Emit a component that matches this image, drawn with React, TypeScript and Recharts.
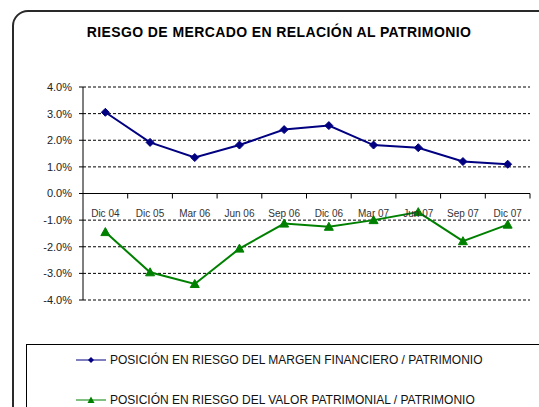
import { LineChart, Line, XAxis, YAxis, CartesianGrid, ReferenceLine } from "recharts";

const periods = ["Dic 04", "Dic 05", "Mar 06", "Jun 06", "Sep 06", "Dic 06", "Mar 07", "Jun 07", "Sep 07", "Dic 07"];
const margenFinanciero = [3.05, 1.92, 1.35, 1.82, 2.4, 2.55, 1.82, 1.72, 1.2, 1.1];
const valorPatrimonial = [-1.45, -2.96, -3.4, -2.07, -1.13, -1.25, -1.0, -0.7, -1.79, -1.17];
const yTicks = [-4, -3, -2, -1, 0, 1, 2, 3, 4];

const seriesNames = [
  "POSICIÓN EN RIESGO DEL MARGEN FINANCIERO / PATRIMONIO",
  "POSICIÓN EN RIESGO DEL VALOR PATRIMONIAL / PATRIMONIO",
];
const seriesColors = ["#000080", "#008000"];

const data = periods.map((p, i) => ({
  period: p,
  margen: margenFinanciero[i],
  valor: valorPatrimonial[i],
}));

const W = 539;
const H = 407;
const PLOT_LEFT = 83;
const PLOT_RIGHT = 530;
const PLOT_TOP = 87;
const PLOT_BOTTOM = 300;
const PLOT_W = PLOT_RIGHT - PLOT_LEFT;
const BAND = PLOT_W / periods.length;
const Y_MIN = yTicks[0];
const Y_MAX = yTicks[yTicks.length - 1];
const ZERO_Y = PLOT_TOP + ((PLOT_BOTTOM - PLOT_TOP) * Y_MAX) / (Y_MAX - Y_MIN);

const font = "Arial, 'Liberation Sans', sans-serif";

// category labels sit just under the zero line, tick marks between categories
function CategoryTick(props: any) {
  const { x, payload } = props;
  const bx = x + BAND / 2;
  return (
    <g>
      <line x1={bx} x2={bx} y1={ZERO_Y} y2={ZERO_Y + 5} stroke="#000" strokeWidth={1} />
      <text x={x} y={ZERO_Y + 23} textAnchor="middle" fontSize={10} fill="#333" fontFamily={font}>
        {payload.value}
      </text>
    </g>
  );
}

function Diamond(props: any) {
  const { cx, cy } = props;
  if (cx == null || cy == null) return null;
  const s = 4;
  return (
    <polygon
      points={`${cx},${cy - s} ${cx + s},${cy} ${cx},${cy + s} ${cx - s},${cy}`}
      fill={seriesColors[0]}
      stroke={seriesColors[0]}
    />
  );
}

function Triangle(props: any) {
  const { cx, cy } = props;
  if (cx == null || cy == null) return null;
  return (
    <polygon
      points={`${cx},${cy - 4.5} ${cx + 4.5},${cy + 3.5} ${cx - 4.5},${cy + 3.5}`}
      fill={seriesColors[1]}
      stroke={seriesColors[1]}
    />
  );
}

function LegendMarker({ index }: { index: number }) {
  const c = seriesColors[index];
  return (
    <svg width={30} height={10} style={{ marginRight: 4 }}>
      <line x1={0} x2={30} y1={5} y2={5} stroke={c} strokeWidth={1} />
      {index === 0 ? (
        <polygon points="15,2 18,5 15,8 12,5" fill={c} />
      ) : (
        <polygon points="15,1.5 18.5,8 11.5,8" fill={c} />
      )}
    </svg>
  );
}

export default function App() {
  return (
    <div
      style={{
        position: "absolute",
        left: 0,
        top: 0,
        width: W,
        height: H,
        overflow: "hidden",
        background: "#fff",
        fontFamily: font,
      }}
    >
      <div
        style={{
          position: "absolute",
          left: 12,
          top: 10,
          width: 600,
          height: 500,
          border: "2px solid #2a2a2a",
          borderRadius: 16,
        }}
      />
      <div
        style={{
          position: "absolute",
          left: 4,
          width: 550,
          top: 24,
          textAlign: "center",
          fontWeight: "bold",
          fontSize: 14,
          letterSpacing: 0.4,
          color: "#000",
        }}
      >
        RIESGO DE MERCADO EN RELACIÓN AL PATRIMONIO
      </div>
      <div style={{ position: "absolute", left: 0, top: 0 }}>
        <LineChart
          width={W}
          height={H}
          data={data}
          margin={{ top: PLOT_TOP, right: W - PLOT_RIGHT, left: 23, bottom: H - PLOT_BOTTOM - 30 }}
        >
          <CartesianGrid vertical={false} stroke="#000" strokeDasharray="3 2" />
          <XAxis
            dataKey="period"
            height={30}
            axisLine={false}
            tickLine={false}
            interval={0}
            padding={{ left: BAND / 2, right: BAND / 2 }}
            tick={<CategoryTick />}
          />
          <YAxis
            width={60}
            domain={[Y_MIN, Y_MAX]}
            ticks={yTicks}
            tickFormatter={(v: number) => `${v.toFixed(1)}%`}
            axisLine={{ stroke: "#000" }}
            tickLine={{ stroke: "#000" }}
            tickSize={4}
            tickMargin={7}
            tick={{ fontSize: 11, fill: "#222", fontFamily: font }}
          />
          <ReferenceLine y={0} stroke="#000" strokeWidth={1} />
          <Line
            type="linear"
            dataKey="margen"
            name={seriesNames[0]}
            stroke={seriesColors[0]}
            strokeWidth={2}
            dot={<Diamond />}
            activeDot={false}
            isAnimationActive={false}
          />
          <Line
            type="linear"
            dataKey="valor"
            name={seriesNames[1]}
            stroke={seriesColors[1]}
            strokeWidth={2}
            dot={<Triangle />}
            activeDot={false}
            isAnimationActive={false}
          />
        </LineChart>
      </div>
      <div
        style={{
          position: "absolute",
          left: 26,
          top: 344,
          width: 600,
          height: 100,
          border: "1px solid #000",
        }}
      >
        {seriesNames.map((name, i) => (
          <div
            key={name}
            style={{
              position: "absolute",
              left: 49,
              top: 8 + i * 40,
              display: "flex",
              alignItems: "center",
              fontSize: 12,
              color: "#111",
              whiteSpace: "nowrap",
            }}
          >
            <LegendMarker index={i} />
            {name}
          </div>
        ))}
      </div>
    </div>
  );
}
